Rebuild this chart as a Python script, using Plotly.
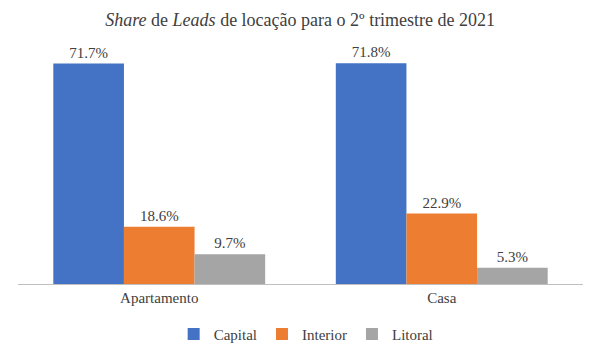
import plotly.graph_objects as go

categories = ["Apartamento", "Casa"]
series_names = ["Capital", "Interior", "Litoral"]
capital = [71.7, 71.8]
interior = [18.6, 22.9]
litoral = [9.7, 5.3]
colors = ["#4472C4", "#ED7D31", "#A5A5A5"]

font_family = "Liberation Serif, DejaVu Serif"
fig = go.Figure()
for name, vals, col in zip(series_names, [capital, interior, litoral], colors):
    fig.add_trace(go.Bar(
        x=categories, y=vals, name=name, marker=dict(color=col, line=dict(width=0)),
        text=[f"{v:.1f}%" for v in vals], textposition="outside",
        textfont=dict(family=font_family, size=15, color="#404040"),
        cliponaxis=False,
    ))

fig.update_layout(
    width=600, height=360,
    margin=dict(l=10, r=25, t=30, b=84, autoexpand=False),
    barmode="group", bargap=0.25, bargroupgap=0,
    paper_bgcolor="white", plot_bgcolor="white",
    font=dict(family=font_family),
    title=dict(text="<i>Share</i> de <i>Leads</i> de locação para o 2º trimestre de 2021",
               x=0.487, xanchor="center", y=0.986, yanchor="top", pad=dict(t=0, b=0),
               font=dict(family=font_family, size=18, color="#404040")),
    xaxis=dict(showline=True, linecolor="#BFBFBF", linewidth=1, ticks="",
               tickfont=dict(family=font_family, size=15, color="#404040")),
    yaxis=dict(range=[0, 80], visible=False, showgrid=False),
    legend=dict(orientation="h", x=0.51, xanchor="center", y=-0.204, yanchor="middle",
                font=dict(family=font_family, size=15, color="#404040"),
                itemwidth=30, traceorder="normal"),
    showlegend=True,
)
fig.write_html("out.html")
